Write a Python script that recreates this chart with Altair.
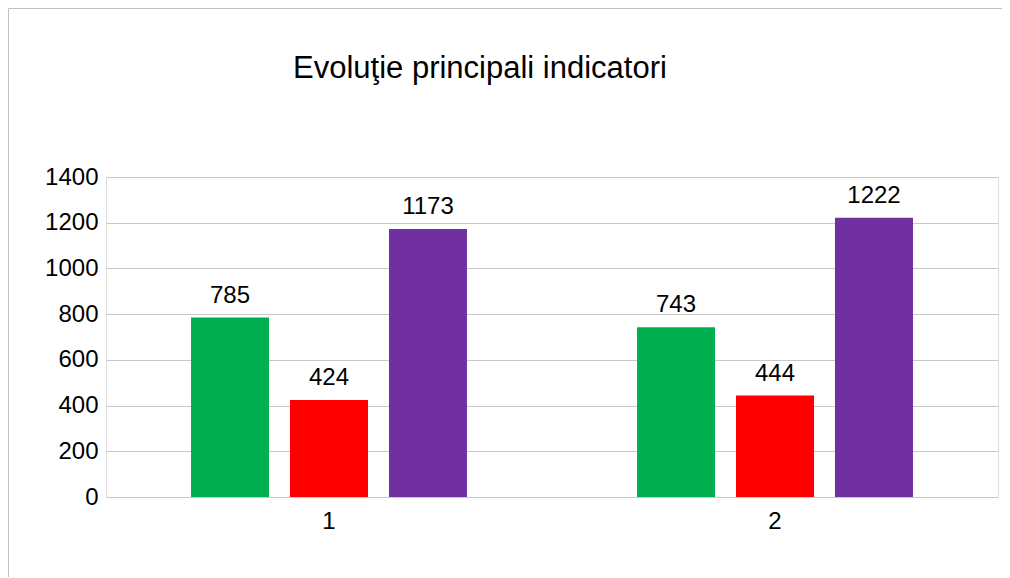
import altair as alt
import pandas as pd

# Data
groups = ["1", "1", "1", "2", "2", "2"]
series = ["Seria 1", "Seria 2", "Seria 3", "Seria 1", "Seria 2", "Seria 3"]
values = [785, 424, 1173, 743, 444, 1222]
series_names = ["Seria 1", "Seria 2", "Seria 3"]
series_colors = ["#00b050", "#ff0000", "#7030a0"]
y_ticks = [0, 200, 400, 600, 800, 1000, 1200, 1400]
title_text = "Evoluţie principali indicatori"

df = pd.DataFrame({"grup": groups, "serie": series, "valoare": values})

FONT = "Liberation Sans"

base = alt.Chart(df).encode(
    x=alt.X(
        "grup:N",
        scale=alt.Scale(paddingInner=0, paddingOuter=0),
        axis=alt.Axis(
            title=None, labelAngle=0, domain=False, ticks=False,
            labelFontSize=24, labelPadding=12, labelColor="black", labelFont=FONT,
            grid=False,
        ),
    ),
    xOffset=alt.XOffset(
        "serie:N",
        scale=alt.Scale(domain=series_names, paddingInner=0.212, paddingOuter=0.859),
    ),
    y=alt.Y(
        "valoare:Q",
        scale=alt.Scale(domain=[0, 1400], nice=False),
        axis=alt.Axis(
            title=None, values=y_ticks, format="d", domain=False, ticks=False,
            labelFontSize=24, labelPadding=8, labelColor="black", labelFont=FONT,
            grid=True, gridColor="#c8c8c8", gridWidth=1,
        ),
    ),
)

bars = base.mark_bar().encode(
    color=alt.Color("serie:N", scale=alt.Scale(domain=series_names, range=series_colors), legend=None)
)

labels = base.mark_text(
    dy=-15, baseline="alphabetic", fontSize=24, font=FONT, color="black"
).encode(text="valoare:Q")

border = alt.Chart(alt.Data(values=[{}])).mark_rect(
    filled=False, stroke="#c0c0c0", strokeWidth=1
).encode(
    x=alt.value(-97.5), x2=alt.value(1000), y=alt.value(-168.5), y2=alt.value(500)
)

chart = alt.layer(border, bars, labels).properties(
    width=892,
    height=320,
    autosize=alt.AutoSizeParams(type="none"),
    padding={"left": 98, "top": 169, "right": 4, "bottom": 80},
    title=alt.TitleParams(
        title_text, anchor="start", dx=285, dy=101, offset=0, baseline="alphabetic",
        fontSize=31, font=FONT, fontWeight="normal", color="black",
    ),
).configure_view(stroke=None).configure(background="white")

chart.save("out.html", embed_options={"renderer": "svg", "actions": False})
